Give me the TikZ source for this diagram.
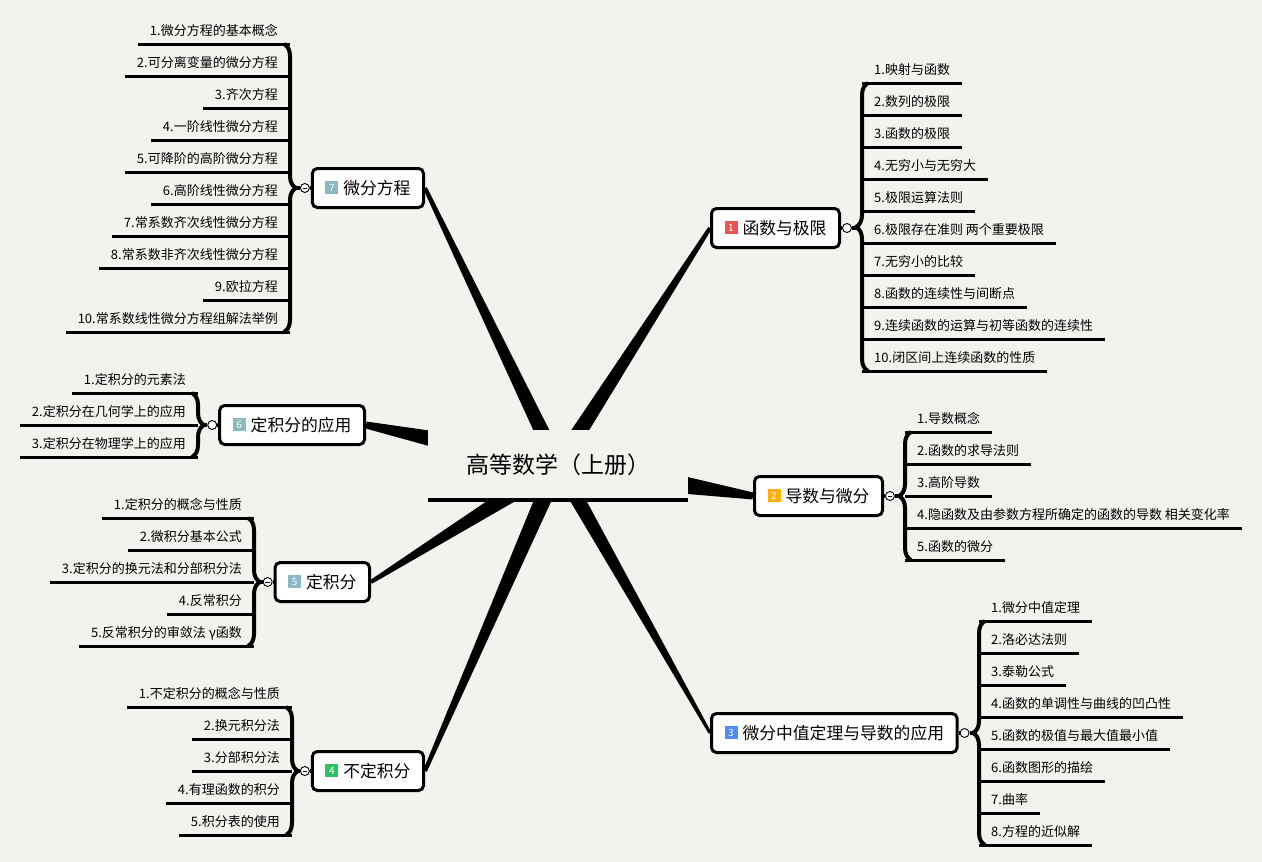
\documentclass[tikz,border=0pt]{standalone}
\usepackage{fontspec}
\setmainfont{Noto Sans CJK SC}
\usetikzlibrary{positioning,calc,decorations.pathreplacing}
\definecolor{paper}{HTML}{F2F2EF}
\definecolor{tagred}{HTML}{E95454}
\definecolor{tagamber}{HTML}{FFB000}
\definecolor{tagblue}{HTML}{4D8DF5}
\definecolor{taggreen}{HTML}{2CC45E}
\definecolor{tagteal}{HTML}{8BB8C2}
\newcommand\badge[2]{{\setlength\fboxsep{0pt}\colorbox{#1}{\makebox[13pt]{\rule[0pt]{0pt}{13pt}\raisebox{2.8pt}{\fontsize{10}{10}\selectfont\color{white}#2}}}}\hspace{5pt}}

\begin{document}
\begin{tikzpicture}[x=1pt,y=-1pt,
  topic/.style={draw,line width=3pt,rounded corners=5pt,fill=white,inner xsep=13pt,minimum height=39pt,font=\fontsize{16.8}{18}\selectfont},
  root/.style={fill=paper,minimum width=260pt,minimum height=70pt,inner sep=0pt,font=\fontsize{23}{26}\selectfont,underline=4pt},
  underline/.style={append after command={\pgfextra{\let\ulnode\tikzlastnode}(\ulnode.south west) edge[line width=#1] (\ulnode.south east)}},
  leaf/.style={inner xsep=12pt,inner ysep=4pt,text height=10pt,text depth=4pt,font=\fontsize{13}{15}\selectfont,underline=3pt},
  dot/.style={circle,draw,fill=white,line width=0.9pt,minimum size=9pt,inner sep=0pt},
  fold/.style={dot,path picture={\draw[line width=0.7pt,black!70!blue] ([xshift=-2.2pt]path picture bounding box.center) -- ([xshift=2.2pt]path picture bounding box.center);}},
  stem/.style={line width=4pt},
  bracket/.style={decorate,decoration={brace,amplitude=12pt},line width=4pt}]
\useasboundingbox (0,0) rectangle (1262,862);
\fill[paper] (0,0) rectangle (1262,862);
\coordinate (c) at (558,465);
%main topics
\node[topic,anchor=west] (b1) at (710,228) {\badge{tagred}{1}函数与极限};
\node[topic,anchor=west] (b2) at (753,496) {\badge{tagamber}{2}导数与微分};
\node[topic,anchor=west] (b3) at (710,733) {\badge{tagblue}{3}微分中值定理与导数的应用};
\node[topic,anchor=east] (b4) at (425,771) {\badge{taggreen}{4}不定积分};
\node[topic,anchor=east] (b5) at (371,582) {\badge{tagteal}{5}定积分};
\node[topic,anchor=east] (b6) at (366,425) {\badge{tagteal}{6}定积分的应用};
\node[topic,anchor=east] (b7) at (425,188) {\badge{tagteal}{7}微分方程};
%tapered branches
\foreach \tp/\wa/\wb in {b1.west/8.5pt/2pt, b2.west/18pt/3.5pt, b3.west/8pt/1.5pt, b4.east/9pt/2pt,
    b5.east/10pt/2pt, b6.east/16pt/3.5pt, b7.east/8pt/2pt}
  \fill ($(c)!\wa!90:(\tp)$) -- ($(c)!\wa!-90:(\tp)$) -- ($(\tp)!\wb!90:(c)$) -- ($(\tp)!\wb!-90:(c)$) -- cycle;
%central topic
\node[root] (root) at (c) {高等数学（上册）};
%fold points
\node[dot,right=1pt of b1] (d1) {};
\node[fold,right=1pt of b2] (d2) {};
\node[dot,right=1pt of b3] (d3) {};
\node[fold,left=1pt of b4] (d4) {};
\node[fold,left=1pt of b5] (d5) {};
\node[dot,left=1pt of b6] (d6) {};
\node[fold,left=1pt of b7] (d7) {};
\draw[stem] (b1) -- (d1) -- ++(10,0);
\draw[stem] (b2) -- (d2) -- ++(10,0);
\draw[stem] (b3) -- (d3) -- ++(8,0);
\draw[stem] (b4) -- (d4) -- ++(-7,0);
\draw[stem] (b5) -- (d5) -- ++(-8,0);
\draw[stem] (b6) -- (d6) -- ++(-8,0);
\draw[stem] (b7) -- (d7) -- ++(-8,0);
%1
\foreach \t [count=\i] in {1.映射与函数, 2.数列的极限, 3.函数的极限, 4.无穷小与无穷大, 5.极限运算法则,
    6.极限存在准则 两个重要极限, 7.无穷小的比较, 8.函数的连续性与间断点, 9.连续函数的运算与初等函数的连续性, 10.闭区间上连续函数的性质}
  \node[leaf,anchor=south west] (l1-\i) at (862,{83+32*(\i-1)}) {\t};
\draw[bracket] ([xshift=6pt]l1-10.south west) -- ([xshift=6pt]l1-1.south west);
%2
\foreach \t [count=\i] in {1.导数概念, 2.函数的求导法则, 3.高阶导数, 4.隐函数及由参数方程所确定的函数的导数 相关变化率, 5.函数的微分}
  \node[leaf,anchor=south west] (l2-\i) at (905,{432+32*(\i-1)}) {\t};
\draw[bracket] ([xshift=6pt]l2-5.south west) -- ([xshift=6pt]l2-1.south west);
%3
\foreach \t [count=\i] in {1.微分中值定理, 2.洛必达法则, 3.泰勒公式, 4.函数的单调性与曲线的凹凸性, 5.函数的极值与最大值最小值,
    6.函数图形的描绘, 7.曲率, 8.方程的近似解}
  \node[leaf,anchor=south west] (l3-\i) at (979,{621+32*(\i-1)}) {\t};
\draw[bracket] ([xshift=6pt]l3-8.south west) -- ([xshift=6pt]l3-1.south west);
%4
\foreach \t [count=\i] in {1.不定积分的概念与性质, 2.换元积分法, 3.分部积分法, 4.有理函数的积分, 5.积分表的使用}
  \node[leaf,anchor=south east] (l4-\i) at (292,{707+32*(\i-1)}) {\t};
\draw[bracket] ([xshift=-6pt]l4-1.south east) -- ([xshift=-6pt]l4-5.south east);
%5
\foreach \t [count=\i] in {1.定积分的概念与性质, 2.微积分基本公式, 3.定积分的换元法和分部积分法, 4.反常积分, 5.反常积分的审敛法 γ函数}
  \node[leaf,anchor=south east] (l5-\i) at (254,{518+32*(\i-1)}) {\t};
\draw[bracket] ([xshift=-6pt]l5-1.south east) -- ([xshift=-6pt]l5-5.south east);
%6
\foreach \t [count=\i] in {1.定积分的元素法, 2.定积分在几何学上的应用, 3.定积分在物理学上的应用}
  \node[leaf,anchor=south east] (l6-\i) at (198,{393+32*(\i-1)}) {\t};
\draw[bracket] ([xshift=-6pt]l6-1.south east) -- ([xshift=-6pt]l6-3.south east);
%7
\foreach \t [count=\i] in {1.微分方程的基本概念, 2.可分离变量的微分方程, 3.齐次方程, 4.一阶线性微分方程, 5.可降阶的高阶微分方程,
    6.高阶线性微分方程, 7.常系数齐次线性微分方程, 8.常系数非齐次线性微分方程, 9.欧拉方程, 10.常系数线性微分方程组解法举例}
  \node[leaf,anchor=south east] (l7-\i) at (290,{44+32*(\i-1)}) {\t};
\draw[bracket] ([xshift=-6pt]l7-1.south east) -- ([xshift=-6pt]l7-10.south east);
\end{tikzpicture}
\end{document}
